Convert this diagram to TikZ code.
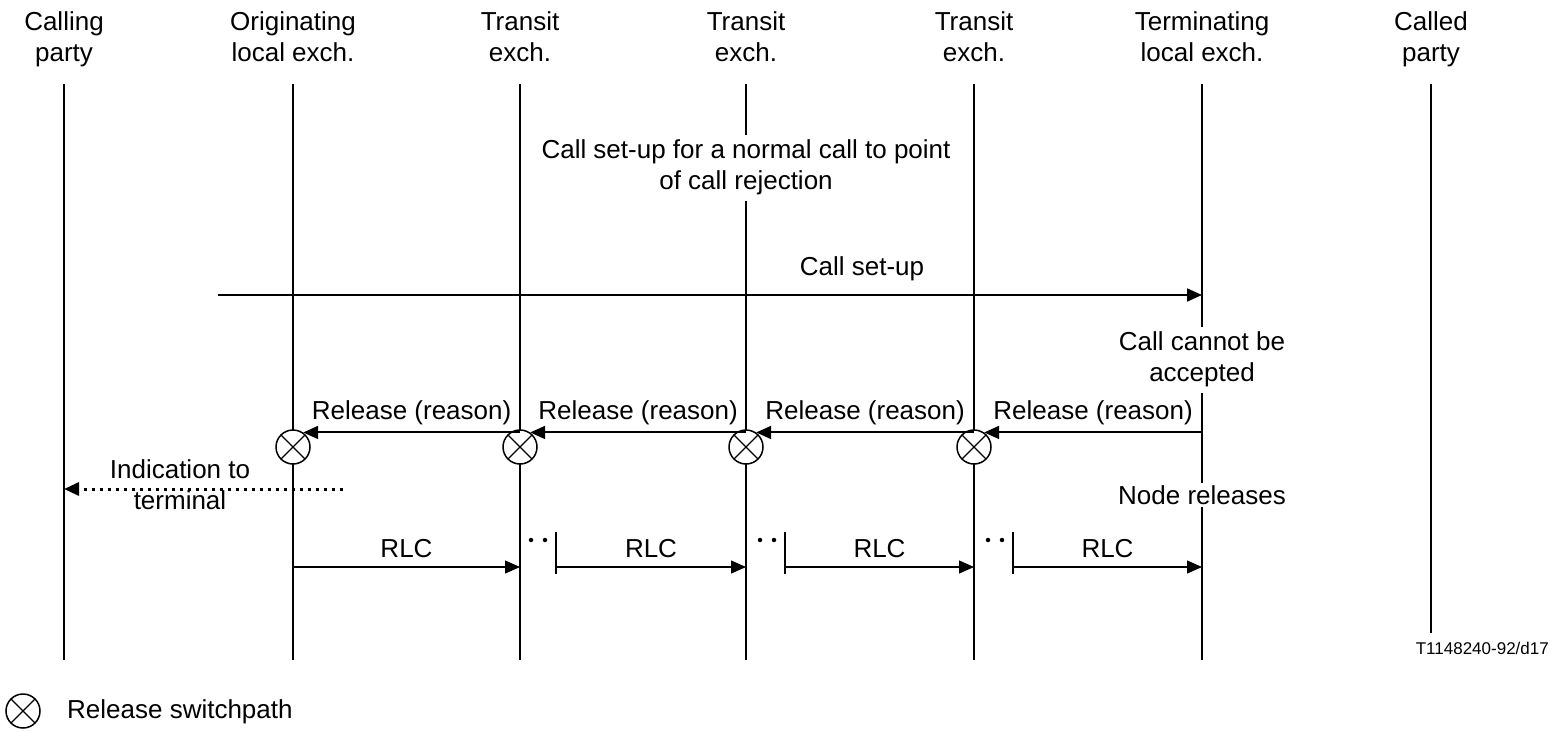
\documentclass[tikz,border=0pt]{standalone}
\usepackage{fontspec}
\setmainfont{Liberation Sans}
\usetikzlibrary{arrows.meta}
\begin{document}
\begin{tikzpicture}[x=1pt,y=-1pt,
  font=\fontsize{26}{31}\selectfont,
  life/.style={line width=2pt},
  txt/.style={align=center, inner sep=1pt},
  wtxt/.style={align=center, inner sep=2pt, fill=white},
  msg/.style={line width=2pt, -{Triangle[length=15pt,width=13pt]}},
  thin msg/.style={line width=1.2pt, -{Triangle[length=15pt,width=13pt]}},
  ind/.style={line width=3pt, dash pattern=on 3.5pt off 4.5pt, -{Triangle[length=15pt,width=13pt]}},
  tick/.style={line width=1.2pt},
  sw/.style={circle, draw, line width=1.5pt, minimum size=34pt, inner sep=0pt, fill=white,
    path picture={\draw[line width=1.2pt] (path picture bounding box.north west) -- (path picture bounding box.south east)
      (path picture bounding box.north east) -- (path picture bounding box.south west);}},
  dotmark/.style={circle, fill, inner sep=0pt, minimum size=4.5pt}
]
\useasboundingbox (0,0) rectangle (1554,731);

% headers
\node[txt] (h1) at (64,40) {Calling\strut\\party\strut};
\node[txt] (h2) at (293,40) {Originating\strut\\local exch.\strut};
\node[txt] (h3) at (520,40) {Transit\strut\\exch.\strut};
\node[txt] (h4) at (746,40) {Transit\strut\\exch.\strut};
\node[txt] (h5) at (974,40) {Transit\strut\\exch.\strut};
\node[txt] (h6) at (1202,40) {Terminating\strut\\local exch.\strut};
\node[txt] (h7) at (1431,40) {Called\strut\\party\strut};

% lifelines
\coordinate (t1) at (64,84);   \coordinate (b1) at (64,660);
\coordinate (t2) at (293,84);  \coordinate (b2) at (293,660);
\coordinate (t3) at (520,84);  \coordinate (b3) at (520,660);
\coordinate (t4) at (746,84);  \coordinate (b4) at (746,660);
\coordinate (t5) at (974,84);  \coordinate (b5) at (974,660);
\coordinate (t6) at (1202,84); \coordinate (b6) at (1202,660);
\coordinate (t7) at (1431,84); \coordinate (b7) at (1431,633);
\foreach \i in {1,...,7} \draw[life] (t\i) -- (b\i);

% top note
\node[wtxt] (note) at (746,168) {Call set-up for a normal call to point\strut\\of call rejection\strut};

% call set-up
\coordinate (cs) at (218,295);
\draw[msg] (cs) -- (cs -| t6);
\node[txt] (csl) at (862,269) {Call set-up};

\node[wtxt] (cna) at (1202,360) {Call cannot be\strut\\accepted\strut};

% release switchpath circles
\node[sw] (c1) at (293,447) {};
\node[sw] (c2) at (520,447) {};
\node[sw] (c3) at (746,447) {};
\node[sw] (c4) at (974,447) {};

% release messages
\draw[msg] (t6 |- c4.55) -- (c4.55) node[midway, above=6pt, txt] (r4) {Release (reason)};
\draw[msg] (t5 |- c3.55) -- (c3.55) node[midway, above=6pt, txt] (r3) {Release (reason)};
\draw[msg] (t4 |- c2.55) -- (c2.55) node[midway, above=6pt, txt] (r2) {Release (reason)};
\draw[msg] (t3 |- c1.55) -- (c1.55) node[midway, above=6pt, txt] (r1) {Release (reason)};

% indication to terminal
\coordinate (is) at (343,489);
\draw[ind] (is) -- (is -| t1);
\node[txt] (itl) at (180,488) {Indication to\strut\\terminal\strut};

\node[wtxt] (nr) at (1202,495) {Node releases};

% RLC
\coordinate (k1) at (293,567);
\coordinate (k2) at (556,567);
\coordinate (k3) at (785,567);
\coordinate (k4) at (1013,567);
\draw[thin msg] (k1) -- (k1 -| t3) node[midway, above=8pt, txt] (l1) {RLC};
\draw[thin msg] (k2) -- (k2 -| t4) node[midway, above=8pt, txt] (l2) {RLC};
\draw[thin msg] (k3) -- (k3 -| t5) node[midway, above=8pt, txt] (l3) {RLC};
\draw[thin msg] (k4) -- (k4 -| t6) node[midway, above=8pt, txt] (l4) {RLC};
\foreach \k/\x in {2/556,3/785,4/1013} {
  \coordinate (ka\k) at (\x,532);
  \coordinate (kb\k) at (\x,574);
  \draw[tick] (ka\k) -- (kb\k);
  \node[dotmark] (da\k) at (\x-25,540) {};
  \node[dotmark] (db\k) at (\x-11,540) {};
}

% figure id
\node[anchor=east, inner sep=0pt, font=\fontsize{17}{20}\selectfont] (fid) at (1549,648) {T1148240-92/d17};

% legend
\node[sw] (leg) at (23,711) {};
\node[anchor=west, txt] (legt) at (66,712) {Release switchpath};
\end{tikzpicture}
\end{document}
